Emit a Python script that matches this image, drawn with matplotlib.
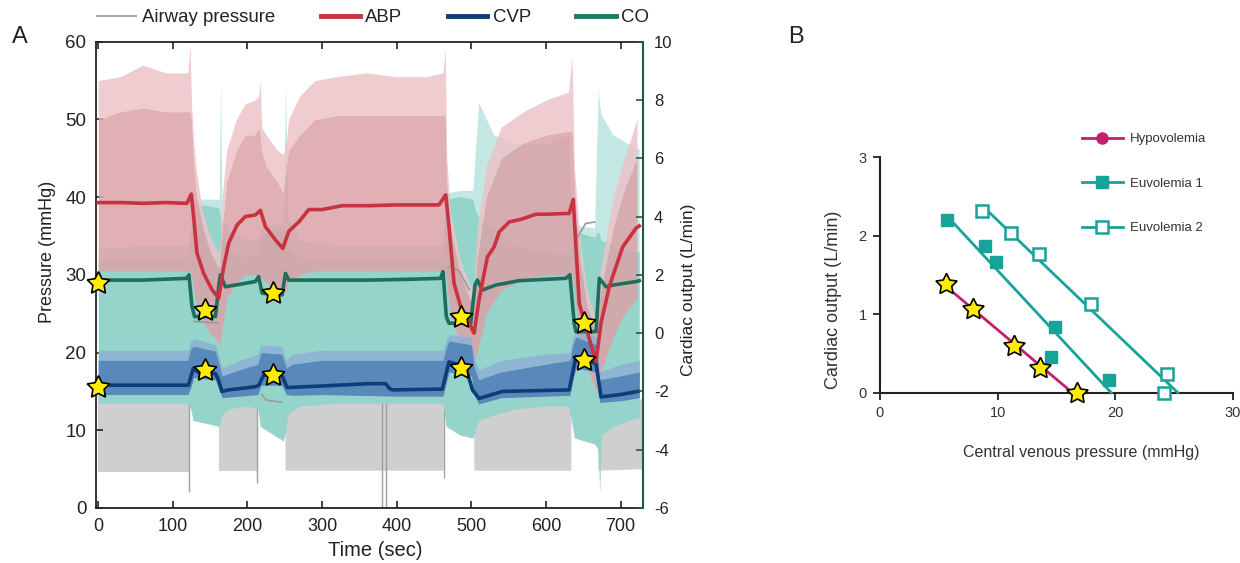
import numpy as np
import matplotlib
matplotlib.use("Agg")
import matplotlib.pyplot as plt
from matplotlib.lines import Line2D

plt.rcParams['font.family'] = ['Liberation Sans', 'DejaVu Sans']
plt.rcParams['axes.unicode_minus'] = False

# ---------------- Panel A data ----------------
# mean traces
abp_t = [0, 30, 60, 90, 118.8, 124.7, 129.1, 132.3, 141.2, 152.4, 161.4, 168.1, 174.8, 186, 197.1,
         210.5, 217.3, 224, 237.4, 247.3, 255.3, 268.7, 282.1, 300, 326.8, 362.6, 400, 430, 456.6,
         465.6, 470, 476.8, 485.7, 496.9, 503.6, 510.3, 521.5, 530.5, 537.2, 550.6, 568.5, 586.4,
         599.8, 631.1, 636.5, 640.1, 644.6, 655.8, 667, 673.7, 684.9, 702.8, 720.7, 725]
abp_mean = [39.3, 39.3, 39.2, 39.3, 39.2, 40.4, 36.2, 32.8, 30.2, 28.1, 27.0, 31.0, 34.1, 36.4, 37.5,
            37.7, 38.3, 36.2, 34.5, 33.4, 35.6, 36.8, 38.4, 38.4, 38.9, 38.9, 39.0, 39.0, 39.0,
            40.3, 36.2, 28.9, 25.9, 23.8, 22.5, 26.8, 32.3, 33.6, 35.5, 36.8, 37.2, 37.8,
            37.8, 37.9, 39.7, 33.6, 26.3, 22.5, 18.8, 23.8, 28.5, 33.6, 36.0, 36.3]

cvp_t = [0, 60, 120.8, 127.5, 135, 157, 161, 165.8, 174.8, 210.5, 215, 221.7, 246.4, 253.1, 300,
         362.6, 385, 390, 394, 461.1, 470, 492.4, 501.4, 510.3, 541.6, 631.1, 640.1, 667, 673.7,
         700, 722.9]
cvp_mean = [15.8, 15.8, 15.8, 18.0, 17.4, 17.3, 16.5, 15.0, 15.2, 15.6, 15.8, 17.1, 17.0, 15.5, 15.7,
            16.0, 16.0, 15.4, 15.2, 15.3, 18.8, 18.2, 15.2, 14.1, 15.0, 15.2, 19.5, 18.6, 14.3,
            14.6, 15.0]

co_t = [0, 60, 118.8, 121.5, 125.6, 129.1, 157.1, 161.4, 163.6, 170.3, 210.5, 215, 219.5, 246.4,
        250.9, 255.3, 300, 362.6, 420, 458.8, 462, 466.4, 470, 499.1, 504.9, 508, 514.8, 532.7,
        564, 626.6, 632, 637.8, 640.1, 667, 671.5, 680.4, 690, 720.7, 725]
co_mean = [1.82, 1.82, 1.88, 2.0, 0.91, 0.57, 0.57, 1.59, 2.0, 1.59, 1.77, 1.94, 1.37, 1.31,
           2.05, 1.82, 1.82, 1.82, 1.85, 1.88, 2.11, 0.57, 0.34, 0.34, 1.65, 1.82, 1.48, 1.65,
           1.80, 1.88, 2.0, 0.34, 0.05, 0.05, 1.88, 1.59, 1.65, 1.77, 1.80]

# pulsatile ABP envelope (mmHg)
abp_env_t = [0, 30, 60, 90, 120, 123, 125, 128, 132, 140, 150, 160, 163, 166, 172, 185, 197, 210,
             215, 217, 219, 225, 240, 248, 252, 255, 270, 290, 320, 360, 400, 440, 462, 465, 467,
             472, 485, 497, 503, 508, 520, 540, 570, 600, 630, 635, 638, 645, 655, 667, 672, 690,
             705, 722]
abp_low = [30.5, 30.5, 30.5, 30.5, 30.5, 30.5, 30, 28, 26, 24, 22.5, 21.5, 21, 23, 27, 29, 30, 30,
           30, 30, 29.5, 29, 28, 27.5, 28, 29, 30, 30.5, 30.5, 30.5, 30.5, 30.5, 30.5, 30.5, 29,
           25, 21, 19, 18.5, 20, 25, 28, 29.5, 30, 30, 30, 28, 22, 18, 15, 17, 22, 25, 27]
abp_core = [50, 51, 51.5, 51, 51, 51, 50, 44, 40, 36, 33, 31, 31, 36, 42, 46, 48, 48, 49, 48,
            46, 44, 42, 40.5, 44, 46, 48, 50, 50.5, 50.5, 50.5, 50.5, 50.5, 50.5, 42, 36, 30, 27,
            26, 32, 40, 45, 47, 48, 48.5, 48.5, 42, 32, 26, 22, 27, 36, 41, 45]
abp_tip = [55, 55.5, 57, 56, 56, 59.8, 52, 47, 43, 38, 35, 33, 33, 40, 46, 50, 52, 52.5, 53, 55,
           49, 48, 46, 45.5, 47, 50, 53, 55, 55.5, 56, 55.5, 55.5, 56, 59.2, 45, 38, 32, 29, 28,
           36, 44, 49, 51, 52.5, 53.5, 58, 44, 35, 28, 24, 30, 40, 45, 50]

# pulsatile CO envelope (L/min)
co_env_t = [0, 60, 120, 124, 127, 145, 162, 164, 166, 175, 200, 214, 217, 248, 251, 254, 270, 320,
            400, 462, 466, 485, 502, 506, 510, 530, 560, 600, 630, 634, 638, 665, 670, 672, 674,
            690, 710, 725]
co_low = [-2.4, -2.4, -2.4, -2.6, -3.0, -3.1, -3.2, -3.0, -2.8, -2.6, -2.5, -2.6, -3.2, -3.7, -3.4,
          -2.8, -2.5, -2.4, -2.4, -2.4, -3.2, -3.5, -3.6, -3.3, -3.0, -2.8, -2.6, -2.5, -2.5, -3.0,
          -3.6, -3.8, -4.0, -5.5, -3.5, -3.2, -3.0, -2.9]
co_high = [2.5, 2.5, 2.6, 3.5, 4.4, 4.4, 4.3, 4.0, 3.2, 2.8, 2.6, 2.8, 3.4, 3.6, 3.5, 3.0, 2.6, 2.5,
           2.5, 2.6, 4.6, 4.7, 4.6, 4.2, 4.0, 3.6, 3.0, 2.8, 2.7, 3.0, 3.5, 3.3, 3.5, 3.4, 3.2,
           3.0, 2.8, 2.8]
co_tip = [2.9, 3.0, 3.0, 3.5, 4.6, 4.6, 4.6, 8.6, 4.0, 3.5, 3.2, 3.2, 3.6, 3.8, 8.5, 4.0, 3.2, 3.0,
          3.0, 3.0, 4.8, 4.9, 4.9, 6.5, 7.9, 6.8, 6.5, 6.5, 6.8, 4.0, 3.7, 3.6, 8.4, 7.8, 7.5,
          6.8, 6.5, 6.3]

# pulsatile CVP envelope (mmHg)
cvp_env_t = [0, 120, 124, 128, 157, 162, 166, 190, 214, 218, 246, 252, 260, 300, 400, 462, 466,
             470, 500, 504, 510, 540, 600, 632, 636, 640, 667, 672, 700, 725]
cvp_lo = [14.6, 14.6, 15.5, 16.8, 16.5, 15.2, 14.2, 14.4, 14.6, 15.8, 15.8, 14.6, 14.5, 14.6, 14.4,
          14.4, 16.0, 17.5, 17.0, 14.5, 13.4, 14.2, 14.4, 14.5, 16.5, 18.0, 17.5, 13.6, 13.8, 14.2]
cvp_hi = [19.0, 19.0, 20.5, 20.8, 20.2, 18.5, 17.0, 17.8, 18.5, 20.0, 19.8, 18.0, 18.5, 19.0, 19.0,
          19.0, 20.5, 21.5, 21.0, 18.0, 16.5, 17.5, 18.5, 19.0, 21.0, 22.0, 21.0, 16.5, 17.0, 17.5]
cvp_top = [20.3, 20.3, 21.5, 21.8, 21.0, 19.5, 18.0, 19.0, 19.8, 21.0, 20.8, 19.0, 19.8, 20.3, 20.3,
           20.3, 21.5, 22.3, 22.0, 19.2, 17.8, 19.0, 19.8, 20.0, 22.0, 22.8, 22.0, 17.5, 18.5, 19.0]

# airway pressure: ventilation envelope (nan = breath hold) and hold pressure
nan = float('nan')
paw_env_t = [0, 60, 121.5, 140, 162, 190, 214, 232, 251, 350, 463, 485, 504, 570, 634, 652, 670, 730]
paw_lo = [4.6, 4.6, 4.6, nan, 4.8, 4.8, 4.8, nan, 4.8, 4.8, 4.8, nan, 4.8, 4.8, 4.8, nan, 4.8, 5.0]
paw_hi = [14.5, 14.5, 14.5, nan, 14.0, 14.0, 14.0, nan, 14.2, 14.5, 14.5, nan, 14.0, 14.2, 14.5, nan,
          13.5, 14.0]
paw_hold_t = [128, 160, 161, 219, 225, 246, 247, 470, 483, 497, 498, 640, 653, 665]
paw_hold = [24.0, 23.8, nan, 14.6, 13.9, 13.6, nan, 31.0, 30.6, 28.1, nan, 34.5, 36.6, 36.8]
paw_spike_t = [122, 213, 380, 386, 463]
paw_spike_lo = [2.1, 3.2, 0, 0, 3.9]
paw_spike_hi = [14.5, 14.0, 15, 15, 14.5]

# stars (measurement points)
star_t = [0, 143.4, 234.3, 485.7, 651.3]
star_co = [1.73, 0.79, 1.39, 0.57, 0.34]
star_cvp = [15.6, 17.8, 17.1, 18.0, 19.0]

legend_a = ['Airway pressure', 'ABP', 'CVP', 'CO']
time_ticks = [0, 100, 200, 300, 400, 500, 600, 700]
p_ticks = [0, 10, 20, 30, 40, 50, 60]
co_ticks = [-6, -4, -2, 0, 2, 4, 6, 8, 10]

# ---------------- Panel B data ----------------
hypo_cvp = [5.6, 7.9, 11.4, 13.6, 16.7]
hypo_co = [1.38, 1.07, 0.59, 0.31, 0.0]
eu1_cvp = [5.7, 8.9, 9.9, 14.9, 14.5, 19.5]
eu1_co = [2.20, 1.87, 1.66, 0.84, 0.45, 0.16]
eu2_cvp = [8.7, 11.1, 13.5, 17.9, 24.4, 24.1]
eu2_co = [2.31, 2.03, 1.77, 1.13, 0.24, 0.0]
legend_b = ['Hypovolemia', 'Euvolemia 1', 'Euvolemia 2']

# ---------------- styling ----------------
C_ABP = '#c9323f'
C_CVP = '#0d3c78'
C_CO = '#1f6e5c'
C_PAW = '#a9a9a9'
C_MAG = '#c41f6c'
C_TEAL = '#17a398'
STAR_C = '#ffec00'
STAR = (5, 1, 0)
TXT = '#222222'


def co_to_p(v):
    """map the right axis (-6..10 L/min) onto the left axis (0..60 mmHg)"""
    return (np.asarray(v, float) + 6.0) * 60.0 / 16.0


W, H = 1240, 563
fig = plt.figure(figsize=(W / 100, H / 100), dpi=100)

# ================= Panel A =================
AX_L, AX_R, AX_T, AX_B = 96, 643, 41.7, 508
axA = fig.add_axes([AX_L / W, 1 - AX_B / H, (AX_R - AX_L) / W, (AX_B - AX_T) / H])
axA.set_xlim(-3, 730)
axA.set_ylim(0, 60)

# airway pressure
axA.fill_between(paw_env_t, paw_lo, paw_hi, color='#cfcfcf', lw=0, zorder=1)
axA.vlines(paw_spike_t, paw_spike_lo, paw_spike_hi, color='#a0a0a0', lw=1, zorder=1)
# CO pulsatile
axA.fill_between(co_env_t, co_to_p(co_high), co_to_p(co_tip), color='#c3e8e3', lw=0, zorder=2)
axA.fill_between(co_env_t, co_to_p(co_low), co_to_p(co_high), color='#95d4ca', lw=0, zorder=2)
# ABP pulsatile
axA.fill_between(abp_env_t, abp_core, abp_tip, color='#ecc3c7', alpha=0.85, lw=0, zorder=3)
axA.fill_between(abp_env_t, abp_low, abp_core, color='#dba2a8', alpha=0.85, lw=0, zorder=3)
# CVP pulsatile
axA.fill_between(cvp_env_t, cvp_lo, cvp_top, color='#8db0d4', alpha=0.85, lw=0, zorder=4)
axA.fill_between(cvp_env_t, cvp_lo, cvp_hi, color='#5080b6', alpha=0.85, lw=0, zorder=4)

# hold pressure and mean lines
axA.plot(paw_hold_t, paw_hold, color='#9a9a9a', lw=1.2, zorder=5)
axA.plot(co_t, co_to_p(co_mean), color=C_CO, lw=2.6, zorder=6, solid_joinstyle='round')
axA.plot(cvp_t, cvp_mean, color=C_CVP, lw=2.6, zorder=6, solid_joinstyle='round')
axA.plot(abp_t, abp_mean, color=C_ABP, lw=2.6, zorder=7, solid_joinstyle='round')

# stars
axA.plot(star_t, co_to_p(star_co), ls='none', marker=STAR, ms=17, mfc=STAR_C, mec='black',
         mew=1.2, zorder=10, clip_on=False)
axA.plot(star_t, star_cvp, ls='none', marker=STAR, ms=17, mfc=STAR_C, mec='black',
         mew=1.2, zorder=10, clip_on=False)

axA.set_xticks(time_ticks)
axA.set_yticks(p_ticks)
axA.tick_params(axis='both', direction='in', length=5, width=1.2, pad=7,
                colors=TXT, top=True, right=False)
axA.tick_params(axis='x', labelsize=13)
axA.tick_params(axis='y', labelsize=13.5)
axA.spines['right'].set_visible(False)
for s in ['left', 'top', 'bottom']:
    axA.spines[s].set_linewidth(1.3)
    axA.spines[s].set_color(TXT)
wA, hA = AX_R - AX_L, AX_B - AX_T
axA.set_xlabel('Time (sec)', fontsize=14.5, color=TXT, va='center')
axA.xaxis.set_label_coords((375 - AX_L) / wA, (AX_B - 550.5) / hA)
axA.set_ylabel('Pressure (mmHg)', fontsize=13, color=TXT, va='center')
axA.yaxis.set_label_coords((47 - AX_L) / wA, (AX_B - 251.7) / hA)

axA2 = axA.twinx()
axA2.set_ylim(-6, 10)
axA2.set_yticks(co_ticks)
axA2.tick_params(axis='y', direction='in', length=5, width=1.2, labelsize=12, pad=8,
                 colors='#1c5c45', labelcolor=TXT)
for s in ['left', 'top', 'bottom']:
    axA2.spines[s].set_visible(False)
axA2.spines['right'].set_color('#1c5c45')
axA2.spines['right'].set_linewidth(1.5)
axA2.set_ylabel('Cardiac output (L/min)', fontsize=12.5, color=TXT, rotation=90, va='center')
axA2.yaxis.set_label_coords((688 - AX_L) / wA, (AX_B - 290) / hA)

handles_a = [Line2D([], [], color=C_PAW, lw=1.5),
             Line2D([], [], color=C_ABP, lw=3.5),
             Line2D([], [], color=C_CVP, lw=3.5),
             Line2D([], [], color='#1f7a63', lw=3.5)]
fig.legend(handles_a, legend_a, loc='upper left', bbox_to_anchor=(97 / W, 1 - 9 / H), ncol=4,
           frameon=False, fontsize=13.4, handlelength=2.1, handletextpad=0.3, columnspacing=2.45,
           borderpad=0, borderaxespad=0, labelcolor=TXT)

fig.text(20 / W, 1 - 37 / H, 'A', fontsize=17, ha='center', va='center', color=TXT)
fig.text(796 / W, 1 - 37 / H, 'B', fontsize=17, ha='center', va='center', color=TXT)

# ================= Panel B =================
BX_L, BX_R, BX_T, BX_B = 880, 1233, 157.3, 392.7
axB = fig.add_axes([BX_L / W, 1 - BX_B / H, (BX_R - BX_L) / W, (BX_B - BX_T) / H])
axB.set_xlim(0, 30)
axB.set_ylim(0, 3)


def fit_line(x, y):
    k, b = np.polyfit(x, y, 1)
    xs = np.array([min(x), -b / k])
    return xs, k * xs + b


for xs_, ys_, col in [(hypo_cvp, hypo_co, C_MAG), (eu1_cvp, eu1_co, C_TEAL), (eu2_cvp, eu2_co, C_TEAL)]:
    fx, fy = fit_line(xs_, ys_)
    axB.plot(fx, fy, color=col, lw=2, zorder=3, clip_on=False)

axB.plot(eu1_cvp, eu1_co, ls='none', marker='s', ms=9, mfc=C_TEAL, mec=C_TEAL, zorder=5,
         clip_on=False)
axB.plot(eu2_cvp, eu2_co, ls='none', marker='s', ms=8.5, mfc='white', mec=C_TEAL, mew=1.8,
         zorder=5, clip_on=False)
axB.plot(hypo_cvp, hypo_co, ls='none', marker=STAR, ms=16, mfc=STAR_C, mec='black', mew=1.2,
         zorder=6, clip_on=False)

axB.set_xticks([0, 10, 20, 30])
axB.set_yticks([0, 1, 2, 3])
axB.tick_params(direction='out', length=5, width=1.3, labelsize=10.5, pad=4.5,
                colors=TXT, labelcolor='#333333')
for s in ['top', 'right']:
    axB.spines[s].set_visible(False)
for s in ['left', 'bottom']:
    axB.spines[s].set_linewidth(1.5)
    axB.spines[s].set_color(TXT)
wB, hB = BX_R - BX_L, BX_B - BX_T
axB.set_xlabel('Central venous pressure (mmHg)', fontsize=11.5, color='#333333', va='center')
axB.xaxis.set_label_coords((1081.5 - BX_L) / wB, -(452 - BX_B) / hB)
axB.set_ylabel('Cardiac output (L/min)', fontsize=13, color='#333333', va='center')
axB.yaxis.set_label_coords((833 - BX_L) / wB, (BX_B - 300) / hB)

handles_b = [Line2D([], [], color=C_MAG, lw=2, marker='o', ms=8, mfc=C_MAG, mec=C_MAG),
             Line2D([], [], color=C_TEAL, lw=2, marker='s', ms=9, mfc=C_TEAL, mec=C_TEAL),
             Line2D([], [], color=C_TEAL, lw=2, marker='s', ms=8.5, mfc='white', mec=C_TEAL, mew=1.8)]
fig.legend(handles_b, legend_b, loc='upper left', bbox_to_anchor=(1082 / W, 1 - 133 / H),
           frameon=False, fontsize=9.5, handlelength=3.1, handletextpad=0.55, labelspacing=2.45,
           borderpad=0, borderaxespad=0, numpoints=1, labelcolor='#333333')

fig.savefig('out.png', dpi=100)
